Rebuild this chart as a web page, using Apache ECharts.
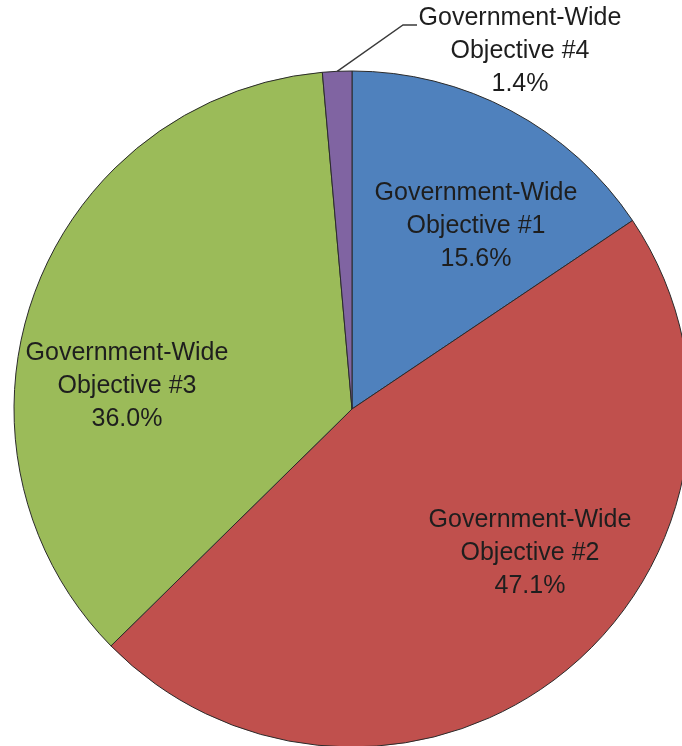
<!DOCTYPE html>
<html><head><meta charset="utf-8">
<script src="https://cdn.jsdelivr.net/npm/echarts@6/dist/echarts.min.js"></script>
<style>html,body{margin:0;padding:0;background:#fff;}#c{width:682px;height:746px;}</style>
</head><body><div id="c"></div>
<script>
const categories = ['Government-Wide\nObjective #1','Government-Wide\nObjective #2','Government-Wide\nObjective #3','Government-Wide\nObjective #4'];
const values = [15.6, 47.1, 36.0, 1.4];
const colors = ['#4F81BD','#C0504D','#9BBB59','#8064A2'];
const labelCenters = [[476,226],[530,553],[127,386],[520,51]];

const chart = echarts.init(document.getElementById('c'), null, {renderer:'canvas'});
chart.setOption({
  animation:false,
  backgroundColor:'#fff',
  series:[{
    type:'pie',
    center:[352,409],
    radius:[0,338],
    startAngle:90,
    clockwise:true,
    avoidLabelOverlap:false,
    data: categories.map((c,i)=>({name:c, value:values[i], itemStyle:{color:colors[i]},
      label:{show:true, position: i===3?'outside':'inside'},
      labelLine:{show:i===3, length:10, length2:10, lineStyle:{color:'#3a3a3a', width:1.4}}})),
    itemStyle:{borderColor:'#2b2b2b', borderWidth:1},
    label:{
      formatter:p=>p.name+'\n'+p.value.toFixed(1)+'%',
      fontFamily:'Liberation Sans, Arial, sans-serif',
      fontSize:25, lineHeight:33, color:'#1e1e1e', align:'center'
    },
    labelLayout:function(p){
      const c = labelCenters[p.dataIndex];
      const r = {x:c[0], y:c[1], align:'center', verticalAlign:'middle'};
      if(p.dataIndex===3 && p.labelLinePoints){
        const s = p.labelLinePoints[0];
        r.labelLinePoints = [[s[0],s[1]],[403,25],[417,25]];
      }
      return r;
    },
    emphasis:{disabled:true}
  }]
});
</script></body></html>
